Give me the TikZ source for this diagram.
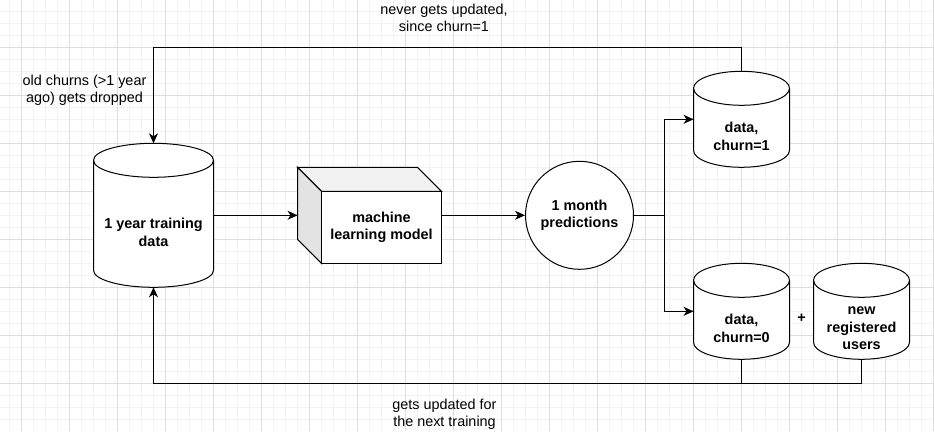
\documentclass[tikz,border=0pt]{standalone}
\usepackage{fontspec}
\setmainfont{Liberation Sans}
\usetikzlibrary{arrows.meta,calc}
\definecolor{gridmajor}{HTML}{DEDEDE}
\definecolor{gridminor}{HTML}{F3F3F3}
\definecolor{cubetop}{HTML}{F2F2F2}
\definecolor{cubeside}{HTML}{E3E3E3}
\tikzstyle{database}=[minimum width=96,minimum height=96,inner sep=0pt,outer sep=0pt]
\tikzstyle{bigdatabase}=[database,minimum width=120,minimum height=144]
\tikzstyle{dbline}=[draw,line width=1pt,fill=white]
\tikzstyle{boxtext}=[font=\fontsize{14.4}{17.3}\selectfont\bfseries,align=center,inner sep=0pt]
\tikzstyle{note}=[font=\fontsize{14.4}{17.3}\selectfont,align=center,inner sep=0pt]
\tikzstyle{edge} = [draw,line width=1pt,-{Stealth[length=10pt,width=9pt,inset=3pt]}]
\tikzstyle{line} = [draw,line width=1pt]
\tikzstyle{cubeface} = [draw,line width=1pt,line join=miter]

\begin{document}
\begin{tikzpicture}[x=1pt,y=-1pt]
    \useasboundingbox (0,0) rectangle (934,431);
    % Background grid
    \fill[white] (0,0) rectangle (934,431);
    \foreach \gx in {-2.5,9.5,...,934}
        \draw[gridminor,line width=1pt] (\gx,0) -- (\gx,431);
    \foreach \gy in {-0.7,11.3,...,431}
        \draw[gridminor,line width=1pt] (0,\gy) -- (934,\gy);
    \foreach \gx in {21.5,69.5,...,934}
        \draw[gridmajor,line width=1pt] (\gx,0) -- (\gx,431);
    \foreach \gy in {-0.7,47.3,...,431}
        \draw[gridmajor,line width=1pt] (0,\gy) -- (934,\gy);

    % First we draw the databases
    \node[bigdatabase] (train) at (153.5,215.3) {};
    \foreach \pos/ \name in {{(741.5,119.3)/churnone},{(741.5,311.3)/churnzero},{(861.5,311.3)/newusers}}
        \node[database] (\name) at \pos {};
    \foreach \name/ \rad in {train/60,churnone/48,churnzero/48,newusers/48} {
        \path[dbline] ($(\name.north west)+(0,17)$) -- ($(\name.south west)+(0,-17)$)
            arc[start angle=180,end angle=360,x radius=\rad pt,y radius=17pt]
            -- ($(\name.north east)+(0,17)$)
            arc[start angle=0,end angle=180,x radius=\rad pt,y radius=17pt] -- cycle;
        \draw[line width=1pt] ($(\name.north west)+(0,17)$)
            arc[start angle=180,end angle=360,x radius=\rad pt,y radius=17pt];
    }
    \foreach \name/ \txt in {train/{1 year training\\data}, churnone/{data,\\churn=1}, churnzero/{data,\\churn=0}, newusers/{new\\registered\\users}}
        \node[boxtext] (\name-text) at ($(\name)+(0,17)$) {\txt};

    % The model box, drawn as a cube
    \node[minimum width=144,minimum height=96,inner sep=0pt,outer sep=0pt] (model) at (369.5,215.3) {};
    \filldraw[cubeface,fill=cubetop] (model.north west) -- ($(model.north east)+(-24,0)$) -- ($(model.north east)+(0,24)$) -- ($(model.north west)+(24,24)$) -- cycle;
    \filldraw[cubeface,fill=cubeside] (model.north west) -- ($(model.north west)+(24,24)$) -- ($(model.south west)+(24,0)$) -- ($(model.south west)+(0,-24)$) -- cycle;
    \filldraw[cubeface,fill=white] ($(model.north west)+(24,24)$) rectangle (model.south east);
    \node[boxtext] (model-text) at ($(model)+(12,12)$) {machine\\learning model};

    \node[circle,draw,line width=1pt,fill=white,minimum size=108,boxtext] (pred) at (579.5,215.3) {1 month\\predictions};
    \node[boxtext] (plus) at (801.5,318) {+};

    % Notes on the loops
    \node[note] (nevernote) at (444,18) {never gets updated,\\since churn=1};
    \node[note] (oldnote) at (84.5,90) {old churns (>1 year\\ago) gets dropped};
    \node[note] (updatenote) at (444.5,414.5) {gets updated for\\the next training};

    % Connect the boxes
    \path[edge] (train.east) -- (model.west);
    \path[edge] (model.east) -- (pred.west);
    \coordinate (split) at ($(pred.east)+(30,0)$);
    \path[line] (pred.east) -- (split);
    \foreach \dest in {churnone,churnzero}
        \path[edge] (split) |- (\dest.west);
    \path[edge] (churnone.north) -- ++(0,-24) -| (train.north);
    \path[line] (churnzero.south) -- ++(0,24);
    \path[edge] (newusers.south) -- ++(0,24) -| (train.south);
\end{tikzpicture}
\end{document}
